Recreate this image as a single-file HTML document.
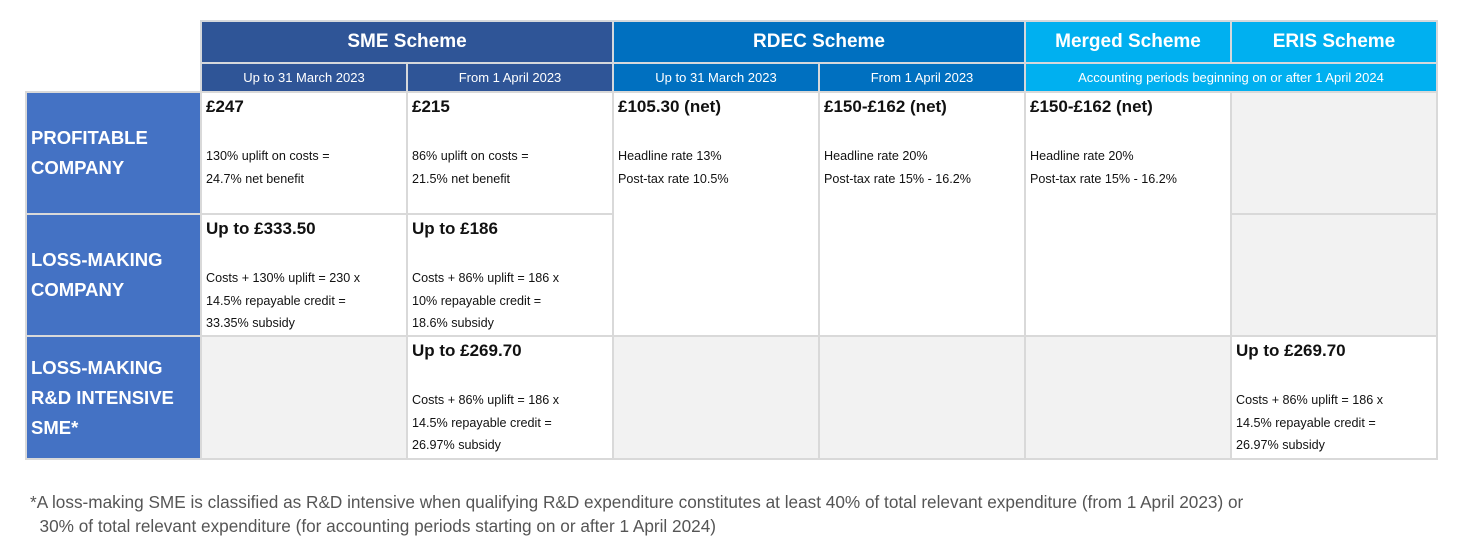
<!DOCTYPE html>
<html><head><meta charset="utf-8"><style>
body{margin:0;width:1465px;height:560px;background:#fff;position:relative;font-family:"Liberation Sans",sans-serif;overflow:hidden}
.c{position:absolute;box-sizing:border-box}
.h{color:#fff;display:flex;align-items:center;justify-content:center}
.h1{font-weight:bold;font-size:19px}
.h2{font-size:13px}
.lab{background:#4472c4;color:#fff;font-weight:bold;font-size:18.5px;line-height:30px;padding:0 0 0 4px;display:flex;align-items:center}
.w{background:#fff;padding:3px 4px;font-size:12.6px;line-height:22.5px;color:#111}
.w b{display:block;font-size:17px;margin-bottom:27px;line-height:22px}
.g{background:#f2f2f2}
</style></head><body>
<div class="c" style="left:200px;top:20px;width:1238px;height:73px;background:#d5d8dc"></div>
<div class="c" style="left:25px;top:91px;width:1413px;height:369px;background:#d9d9d9"></div>

<div class="c h h1" style="left:202px;top:22px;width:410px;height:40px;background:#2f5597">SME Scheme</div>
<div class="c h h1" style="left:614px;top:22px;width:410px;height:40px;background:#0070c0">RDEC Scheme</div>
<div class="c h h1" style="left:1026px;top:22px;width:204px;height:40px;background:#00b0f0">Merged Scheme</div>
<div class="c h h1" style="left:1232px;top:22px;width:204px;height:40px;background:#00b0f0">ERIS Scheme</div>

<div class="c h h2" style="left:202px;top:64px;width:204px;height:27px;background:#2f5597">Up to 31 March 2023</div>
<div class="c h h2" style="left:408px;top:64px;width:204px;height:27px;background:#2f5597">From 1 April 2023</div>
<div class="c h h2" style="left:614px;top:64px;width:204px;height:27px;background:#0070c0">Up to 31 March 2023</div>
<div class="c h h2" style="left:820px;top:64px;width:204px;height:27px;background:#0070c0">From 1 April 2023</div>
<div class="c h h2" style="left:1026px;top:64px;width:410px;height:27px;background:#00b0f0">Accounting periods beginning on or after 1 April 2024</div>

<div class="c lab" style="left:27px;top:93px;width:173px;height:120px">PROFITABLE<br>COMPANY</div>
<div class="c lab" style="left:27px;top:215px;width:173px;height:120px">LOSS-MAKING<br>COMPANY</div>
<div class="c lab" style="left:27px;top:337px;width:173px;height:121px">LOSS-MAKING<br>R&amp;D INTENSIVE<br>SME*</div>

<div class="c w" style="left:202px;top:93px;width:204px;height:120px"><b>£247</b>130% uplift on costs =<br>24.7% net benefit</div>
<div class="c w" style="left:408px;top:93px;width:204px;height:120px"><b>£215</b>86% uplift on costs =<br>21.5% net benefit</div>
<div class="c w" style="left:614px;top:93px;width:204px;height:242px"><b>£105.30 (net)</b>Headline rate 13%<br>Post-tax rate 10.5%</div>
<div class="c w" style="left:820px;top:93px;width:204px;height:242px"><b>£150-£162 (net)</b>Headline rate 20%<br>Post-tax rate 15% - 16.2%</div>
<div class="c w" style="left:1026px;top:93px;width:204px;height:242px"><b>£150-£162 (net)</b>Headline rate 20%<br>Post-tax rate 15% - 16.2%</div>
<div class="c g" style="left:1232px;top:93px;width:204px;height:120px"></div>

<div class="c w" style="left:202px;top:215px;width:204px;height:120px"><b>Up to £333.50</b>Costs + 130% uplift = 230 x<br>14.5% repayable credit =<br>33.35% subsidy</div>
<div class="c w" style="left:408px;top:215px;width:204px;height:120px"><b>Up to £186</b>Costs + 86% uplift = 186 x<br>10% repayable credit =<br>18.6% subsidy</div>
<div class="c g" style="left:1232px;top:215px;width:204px;height:120px"></div>

<div class="c g" style="left:202px;top:337px;width:204px;height:121px"></div>
<div class="c w" style="left:408px;top:337px;width:204px;height:121px"><b>Up to £269.70</b>Costs + 86% uplift = 186 x<br>14.5% repayable credit =<br>26.97% subsidy</div>
<div class="c g" style="left:614px;top:337px;width:204px;height:121px"></div>
<div class="c g" style="left:820px;top:337px;width:204px;height:121px"></div>
<div class="c g" style="left:1026px;top:337px;width:204px;height:121px"></div>
<div class="c w" style="left:1232px;top:337px;width:204px;height:121px"><b>Up to £269.70</b>Costs + 86% uplift = 186 x<br>14.5% repayable credit =<br>26.97% subsidy</div>

<div class="c" style="left:30px;top:490px;font-size:17.2px;line-height:24px;color:#555;white-space:nowrap">*A loss-making SME is classified as R&amp;D intensive when qualifying R&amp;D expenditure constitutes at least 40% of total relevant expenditure (from 1 April 2023) or<br>&nbsp;&nbsp;30% of total relevant expenditure (for accounting periods starting on or after 1 April 2024)</div>
</body></html>
